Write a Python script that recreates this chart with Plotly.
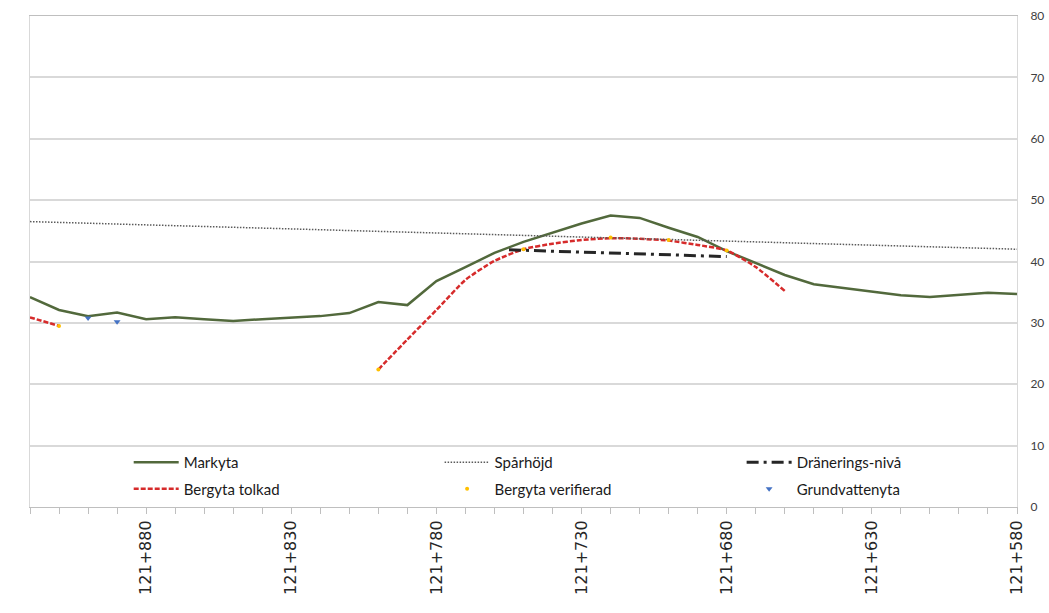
import plotly.graph_objects as go

# chainage (m within km 121), left to right
markyta_x = [920, 910, 900, 890, 880, 870, 860, 850, 840, 830, 820, 810, 800, 790, 780, 770, 760, 750,
             740, 730, 720, 710, 700, 690, 680, 670, 660, 650, 640, 630, 620, 610, 600, 590, 580]
markyta_y = [34.2, 32.1, 31.1, 31.7, 30.6, 30.9, 30.6, 30.3, 30.6, 30.8, 31.1, 31.6, 33.4, 32.9, 36.8, 39.1,
             41.4, 43.2, 44.7, 46.2, 47.5, 47.1, 45.5, 44.0, 41.7, 39.8, 37.8, 36.3, 35.7, 35.0, 34.5, 34.2,
             34.5, 34.9, 34.7]

spar_x = [920, 580]
spar_y = [46.5, 42.0]

dran_x = [755, 680]
dran_y = [41.9, 40.8]

berg_tolk_x = [920, 910, 900, 800, 790, 780, 770, 760, 750, 740, 730, 720, 710, 700, 690, 680, 670, 660]
berg_tolk_y = [30.9, 29.5, None, 22.4, 27.3, 32.1, 37.0, 40.1, 42.0, 42.9, 43.5, 43.8, 43.7, 43.4, 42.7,
               41.8, 39.1, 35.2]

berg_ver_x = [910, 800, 750, 720, 700, 680]
berg_ver_y = [29.5, 22.4, 42.0, 43.9, 43.5, 41.8]

grund_x = [900, 890]
grund_y = [30.8, 30.2]

label_vals = [880, 830, 780, 730, 680, 630, 580]
label_text = ["121+%d" % v for v in label_vals]
y_ticks = [0, 10, 20, 30, 40, 50, 60, 70, 80]

fig = go.Figure()
fig.add_trace(go.Scatter(x=markyta_x, y=markyta_y, mode="lines", name="Markyta",
                         line=dict(color="#52693c", width=2.5), legend="legend", legendgroup="a"))
fig.add_trace(go.Scatter(x=berg_tolk_x, y=berg_tolk_y, mode="lines", name="Bergyta tolkad",
                         line=dict(color="#d62b2b", width=2.5, dash="5px,2px", shape="spline", smoothing=0.6),
                         connectgaps=False, legend="legend", legendgroup="b"))
fig.add_trace(go.Scatter(x=spar_x, y=spar_y, mode="lines", name="Spårhöjd",
                         line=dict(color="#5a5a5a", width=1.5, dash="1.5px,1.5px"), legend="legend2",
                         legendgroup="c"))
fig.add_trace(go.Scatter(x=berg_ver_x, y=berg_ver_y, mode="markers", name="Bergyta verifierad",
                         marker=dict(color="#ffc000", size=4, symbol="circle"), legend="legend2",
                         legendgroup="d"))
fig.add_trace(go.Scatter(x=dran_x, y=dran_y, mode="lines", name="Dränerings-nivå",
                         line=dict(color="#262626", width=3, dash="12px,5px,3px,5px"), legend="legend3",
                         legendgroup="e"))
fig.add_trace(go.Scatter(x=grund_x, y=grund_y, mode="markers", name="Grundvattenyta",
                         marker=dict(color="#4472c4", size=6, symbol="triangle-down"), legend="legend3",
                         legendgroup="f"))

leg_common = dict(orientation="v", yanchor="top", y=0.124, xanchor="left",
                  font=dict(family="Lato", size=15, color="#1a1a1a"),
                  bgcolor="rgba(0,0,0,0)", itemwidth=45, tracegroupgap=4, traceorder="grouped")

fig.update_layout(
    width=1049, height=613,
    margin=dict(l=30, r=32, t=16, b=106, autoexpand=False),
    paper_bgcolor="white", plot_bgcolor="white",
    showlegend=True,
    legend=dict(x=0.1, **leg_common),
    legend2=dict(x=0.415, **leg_common),
    legend3=dict(x=0.721, **leg_common),
    xaxis=dict(range=[920, 580], showgrid=False, zeroline=False, automargin=False,
               tickmode="array", tickvals=label_vals, ticktext=label_text, tickangle=-90,
               tickfont=dict(family="DejaVu Sans", size=16, color="#262626"),
               ticks="outside", ticklen=6, tickcolor="#bfbfbf",
               minor=dict(dtick=10, tick0=580, ticks="outside", ticklen=6, tickcolor="#bfbfbf", showgrid=False),
               showline=True, linecolor="#bfbfbf", linewidth=1, mirror=True),
    yaxis=dict(range=[0, 80], side="right", tickmode="array", tickvals=y_ticks, automargin=False,
               showgrid=True, gridcolor="#d9d9d9", gridwidth=1.5, zeroline=False,
               tickfont=dict(family="Lato", size=12, color="#404040"),
               ticks="", ticklabelstandoff=10,
               showline=True, linecolor="#d9d9d9", linewidth=1, mirror=True),
)

fig.write_html("out.html", config={"displayModeBar": False},
               post_script="document.body.style.margin='0';document.body.style.overflow='hidden';")
